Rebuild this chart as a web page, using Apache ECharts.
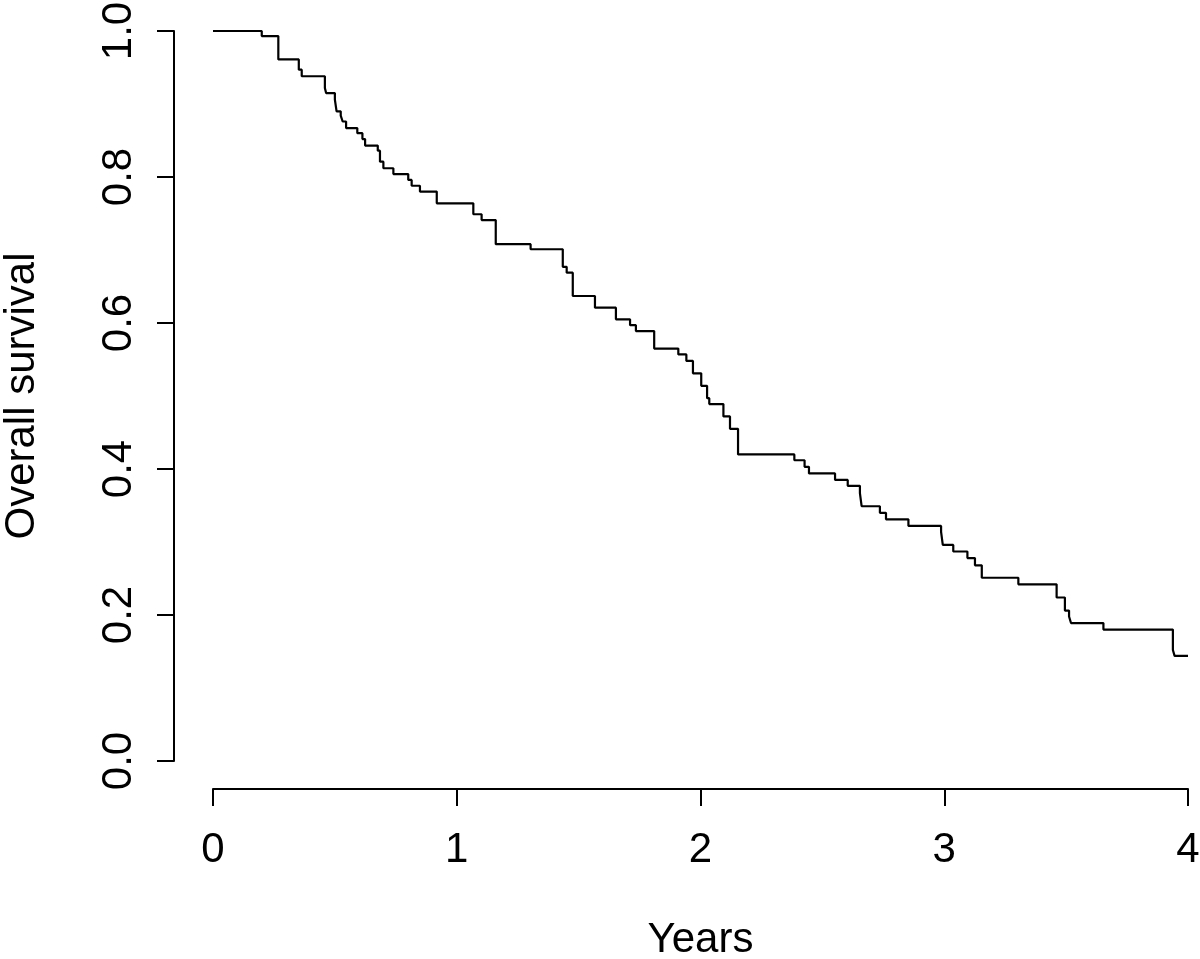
<!DOCTYPE html>
<html>
<head>
<meta charset="utf-8">
<script src="https://cdn.jsdelivr.net/npm/echarts@6/dist/echarts.min.js"></script>
<style>
html,body{margin:0;padding:0;background:#fff;}
#chart{width:1200px;height:959px;}
</style>
</head>
<body>
<div id="chart"></div>
<script>
// Kaplan-Meier step curve: time (years) at which survival drops, and survival after the drop
var times = [0, 0.200, 0.268, 0.352, 0.364, 0.459, 0.464, 0.500, 0.507, 0.524, 0.532, 0.546,
  0.592, 0.613, 0.624, 0.676, 0.685, 0.699, 0.740, 0.801, 0.815, 0.849, 0.918,
  1.068, 1.102, 1.160, 1.303, 1.435, 1.451, 1.476, 1.567, 1.653, 1.711, 1.735, 1.810,
  1.909, 1.942, 1.969, 2.003, 2.027, 2.036, 2.094, 2.121, 2.154,
  2.385, 2.427, 2.445, 2.552, 2.604, 2.654, 2.661, 2.736, 2.761, 2.853,
  2.987, 2.994, 3.037, 3.095, 3.126, 3.154, 3.304, 3.461, 3.495, 3.512, 3.520, 3.653,
  3.938, 3.945, 4.0];
var survival = [1.0, 0.993, 0.961, 0.947, 0.938, 0.922, 0.915, 0.906, 0.890, 0.884, 0.876, 0.867,
  0.860, 0.852, 0.843, 0.836, 0.821, 0.812, 0.804, 0.796, 0.788, 0.780, 0.764,
  0.749, 0.741, 0.708, 0.701, 0.677, 0.669, 0.637, 0.621, 0.605, 0.597, 0.589, 0.565,
  0.557, 0.548, 0.531, 0.514, 0.497, 0.489, 0.472, 0.455, 0.420,
  0.412, 0.403, 0.394, 0.385, 0.377, 0.367, 0.349, 0.340, 0.331, 0.322,
  0.314, 0.296, 0.287, 0.278, 0.268, 0.251, 0.242, 0.224, 0.206, 0.198, 0.189, 0.180,
  0.152, 0.144, 0.144];
var xTicks = [0, 1, 2, 3, 4];
var yTicks = [0.0, 0.2, 0.4, 0.6, 0.8, 1.0];

var data = times.map(function (t, i) { return [t, survival[i]]; });
var font = 'Liberation Sans, Arial, Helvetica, sans-serif';

var chart = echarts.init(document.getElementById('chart'), null, {renderer: 'canvas'});
chart.setOption({
  backgroundColor: '#ffffff',
  animation: false,
  grid: {left: 213, right: 12, top: 31, bottom: 198, containLabel: false, outerBoundsMode: 'none'},
  xAxis: {
    type: 'value',
    min: xTicks[0], max: xTicks[xTicks.length - 1], interval: 1,
    offset: 28,
    name: 'Years', nameLocation: 'middle', nameGap: 130,
    nameTextStyle: {fontFamily: font, fontSize: 42, color: '#000'},
    axisLine: {show: true, onZero: false, lineStyle: {color: '#000', width: 2}},
    axisTick: {show: true, inside: false, length: 17, lineStyle: {color: '#000', width: 2}},
    axisLabel: {fontFamily: font, fontSize: 42, color: '#000', margin: 40},
    splitLine: {show: false}
  },
  yAxis: {
    type: 'value',
    min: yTicks[0], max: yTicks[yTicks.length - 1], interval: 0.2,
    offset: 39,
    name: 'Overall survival', nameLocation: 'middle', nameGap: 131,
    nameTextStyle: {fontFamily: font, fontSize: 42, color: '#000'},
    axisLine: {show: true, onZero: false, lineStyle: {color: '#000', width: 2}},
    axisTick: {show: true, inside: false, length: 17, lineStyle: {color: '#000', width: 2}},
    axisLabel: {fontFamily: font, fontSize: 42, color: '#000', margin: 34, rotate: 90,
      formatter: function (v) { return v.toFixed(1); }},
    splitLine: {show: false}
  },
  series: [{
    type: 'line',
    step: 'end',
    data: data,
    showSymbol: false,
    symbol: 'none',
    lineStyle: {color: '#000', width: 2.2},
    clip: false
  }]
});
</script>
</body>
</html>
